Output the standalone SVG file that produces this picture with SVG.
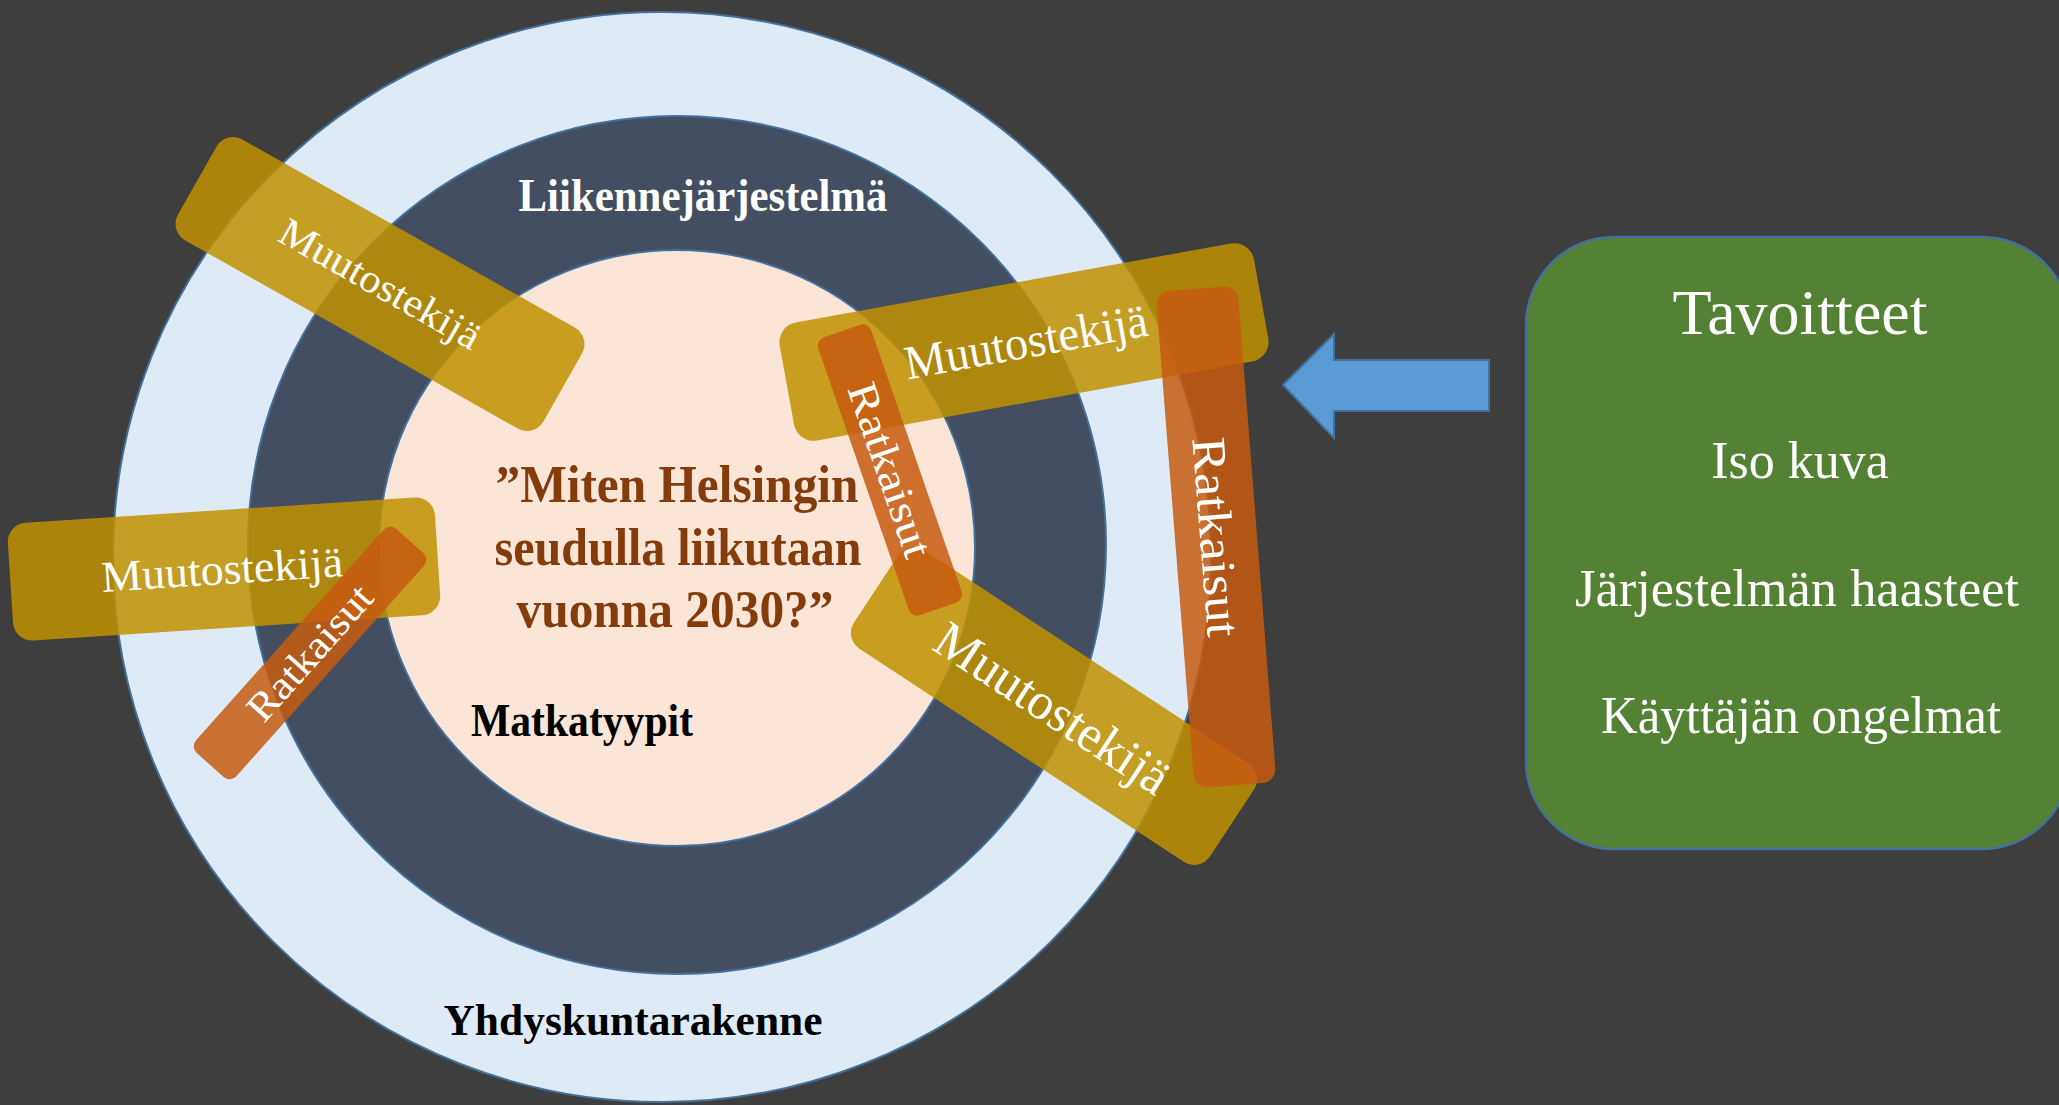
<svg xmlns="http://www.w3.org/2000/svg" width="2059" height="1105" viewBox="0 0 2059 1105">
  <defs>
    <style>
      text { font-family: "Liberation Serif", "Times New Roman", serif; }
      .ring { stroke: #41719c; stroke-width: 2; }
      .gold { fill: #bf9000; fill-opacity: 0.85; }
      .orange { fill: #c55a11; fill-opacity: 0.85; }
      .barText { fill: #ffffff; text-anchor: middle; }
      .lbl { text-anchor: middle; font-weight: bold; }
      .goal { fill: #ffffff; text-anchor: middle; font-size: 52px; }
    </style>
  </defs>
  <rect x="0" y="0" width="2059" height="1105" fill="#3e3e3e"/>

  <g id="yhdyskuntarakenne">
    <ellipse class="ring" cx="662" cy="557" rx="549" ry="545" fill="#deebf7"/>
    <text class="lbl" x="633" y="1035" font-size="44" fill="#000000" textLength="379" lengthAdjust="spacingAndGlyphs">Yhdyskuntarakenne</text>
  </g>
  <g id="liikennejarjestelma">
    <circle class="ring" cx="677" cy="545" r="429" fill="#434f61"/>
    <text class="lbl" x="703" y="211" font-size="46" fill="#ffffff" textLength="369" lengthAdjust="spacingAndGlyphs">Liikennejärjestelmä</text>
  </g>
  <g id="matkatyypit">
    <circle class="ring" cx="677" cy="548" r="298" fill="#fbe5d6"/>
    <text class="lbl" x="582" y="736" font-size="46" fill="#000000" textLength="222" lengthAdjust="spacingAndGlyphs">Matkatyypit</text>
  </g>
  <g id="kysymys">
    <text class="lbl" x="677" y="502" font-size="52" fill="#843c0c" textLength="363" lengthAdjust="spacingAndGlyphs">”Miten Helsingin</text>
    <text class="lbl" x="678" y="565" font-size="52" fill="#843c0c" textLength="367" lengthAdjust="spacingAndGlyphs">seudulla liikutaan</text>
    <text class="lbl" x="675" y="627" font-size="52" fill="#843c0c" textLength="317" lengthAdjust="spacingAndGlyphs">vuonna 2030?”</text>
  </g>

  <g id="muutostekija1" transform="translate(380,284) rotate(29.5)">
    <rect class="gold" x="-210" y="-58" width="420" height="116" rx="19"/>
    <text class="barText" x="0" y="13" font-size="40" textLength="225" lengthAdjust="spacingAndGlyphs">Muutostekijä</text>
  </g>
  <g id="muutostekija2" transform="translate(224,569) rotate(-3.7)">
    <rect class="gold" x="-214" y="-59" width="428" height="118" rx="19"/>
    <text class="barText" x="-2" y="15" font-size="44" textLength="242" lengthAdjust="spacingAndGlyphs">Muutostekijä</text>
  </g>
  <g id="muutostekija3" transform="translate(1024,342) rotate(-10.3)">
    <rect class="gold" x="-241" y="-60" width="482" height="120" rx="20"/>
    <text class="barText" x="2" y="16" font-size="48" textLength="246" lengthAdjust="spacingAndGlyphs">Muutostekijä</text>
  </g>
  <g id="muutostekija4" transform="translate(1054,706) rotate(33.3)">
    <rect class="gold" x="-213" y="-59" width="426" height="118" rx="19"/>
    <text class="barText" x="0" y="20" font-size="52" textLength="270" lengthAdjust="spacingAndGlyphs">Muutostekijä</text>
  </g>

  <g id="ratkaisut1" transform="translate(310,653) rotate(-48.3)">
    <rect class="orange" x="-150" y="-27" width="300" height="54" rx="9"/>
    <text class="barText" x="0" y="13" font-size="40" textLength="168" lengthAdjust="spacingAndGlyphs">Ratkaisut</text>
  </g>
  <g id="ratkaisut2" transform="translate(890,470) rotate(70.9)">
    <rect class="orange" x="-147" y="-28" width="294" height="56" rx="9"/>
    <text class="barText" x="0" y="14" font-size="42" textLength="182" lengthAdjust="spacingAndGlyphs">Ratkaisut</text>
  </g>
  <g id="ratkaisut3" transform="translate(1216,537) rotate(85.5)">
    <rect class="orange" x="-249" y="-41" width="498" height="82" rx="14"/>
    <text class="barText" x="0" y="16" font-size="48" textLength="200" lengthAdjust="spacingAndGlyphs">Ratkaisut</text>
  </g>

  <g id="connectors">
    <polygon points="1283,385 1334,334 1334,360 1489,360 1489,411 1334,411 1334,438" fill="#5b9bd5" stroke="#41719c" stroke-width="2" stroke-linejoin="miter"/>
  </g>

  <g id="tavoitteet">
    <rect x="1526" y="237" width="544" height="612" rx="88" fill="#548235" stroke="#41719c" stroke-width="2.5"/>
    <text class="goal" x="1800" y="334" font-size="64" style="font-size:64px">Tavoitteet</text>
    <text class="goal" x="1800" y="478">Iso kuva</text>
    <text class="goal" x="1797" y="606" textLength="444" lengthAdjust="spacingAndGlyphs">Järjestelmän haasteet</text>
    <text class="goal" x="1801" y="733" textLength="400" lengthAdjust="spacingAndGlyphs">Käyttäjän ongelmat</text>
  </g>
</svg>
